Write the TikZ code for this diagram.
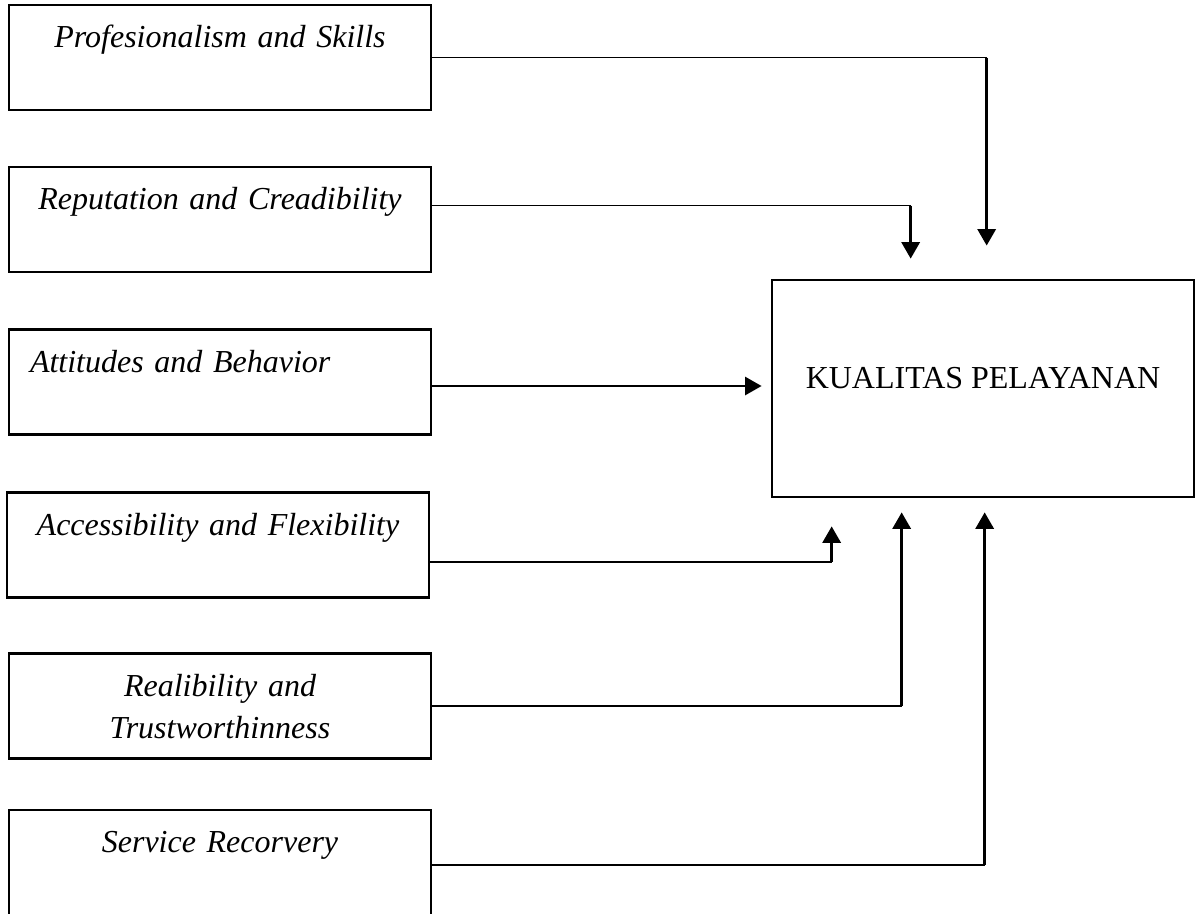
\documentclass[tikz,border=0pt]{standalone}
\usepackage{fontspec}
\setmainfont{Liberation Serif}
\usetikzlibrary{calc,positioning,arrows.meta}

\begin{document}
\begin{tikzpicture}[
  x=0.375pt,y=-0.375pt,
  font=\fontsize{12pt}{15.75pt}\selectfont,
  >={Triangle[width=6.8pt,length=6.2pt]},
  factor/.style={draw=black, line width=1pt, inner ysep=0pt, inner xsep=7.875pt,
                 text width=142.5pt, align=center, minimum width=158.25pt,
                 text height=16pt, text depth=23.4pt,
                 font=\fontsize{12pt}{15.75pt}\selectfont\itshape},
  target/.style={draw=black, line width=1pt, minimum width=158.25pt,
                 minimum height=81.4pt, text height=6pt, text depth=6pt},
  wire/.style={draw=black, line width=0.5pt},
  feed/.style={->, draw=black, line width=1.1pt}
]
  \clip (0,0) rectangle (1200,913);

  % dimensions
  \node[factor] (prof) at (220,57.5) {Profesionalism and Skills};
  \node[factor] (rep) at (220,219.5) {Reputation and Creadibility};
  \node[factor, align=left] (att) at (220,382) {Attitudes and Behavior};
  \node[factor] (acc) at (218,545) {Accessibility and Flexibility};
  \node[factor] (rel) at (220,706) {Realibility and\\Trustworthinness};
  \node[factor, text depth=25.3pt] (serv) at (220,865) {Service Recorvery};

  \node[target] (kual) at (983,388.5) {KUALITAS PELAYANAN};

  \coordinate (k1) at ($(kual.north west)+(216,0)$);
  \coordinate (k2) at ($(kual.north west)+(140,0)$);
  \coordinate (k4) at ($(kual.south west)+(61,0)$);
  \coordinate (k5) at ($(kual.south west)+(131,0)$);
  \coordinate (k6) at ($(kual.south west)+(214,0)$);

  % from above
  \draw[wire] (prof.east) -- (prof.east -| k1);
  \draw[feed, shorten >=12.4pt] (prof.east -| k1) -- (k1);

  \coordinate (r1) at ($(rep.north east)+(0,40)$);
  \draw[wire] (r1) -- (r1 -| k2);
  \draw[feed, shorten >=7.5pt] (r1 -| k2) -- (k2);

  \coordinate (a1) at ($(att.east)+(0,4)$);
  \draw[feed, line width=0.9pt, shorten >=3.4pt] (a1) -- (a1 -| kual.west);

  % from below
  \coordinate (c1) at ($(acc.north east)+(0,71)$);
  \draw[wire] (c1) -- (c1 -| k4);
  \draw[feed, shorten >=10.5pt] (c1 -| k4) -- (k4);

  \draw[wire] (rel.east) -- (rel.east -| k5);
  \draw[feed, shorten >=5.25pt] (rel.east -| k5) -- (k5);

  \draw[wire] (serv.east) -- (serv.east -| k6);
  \draw[feed, shorten >=5.25pt] (serv.east -| k6) -- (k6);
\end{tikzpicture}
\end{document}
